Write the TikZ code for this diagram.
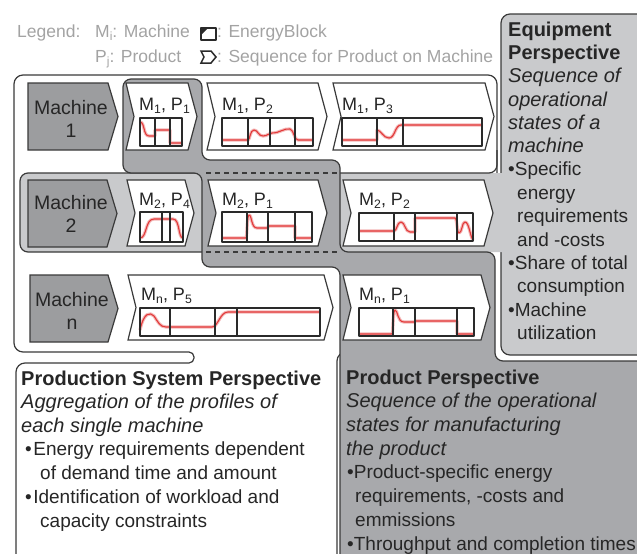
\documentclass[tikz,border=0pt]{standalone}
\usepackage{fontspec}
\setmainfont{Liberation Sans}
\definecolor{edgec}{HTML}{3A3A3A}
\definecolor{blkc}{HTML}{2A2A2A}
\definecolor{bandc}{HTML}{C9CACC}
\definecolor{prodc}{HTML}{A8A9AC}
\definecolor{machc}{HTML}{9C9D9F}
\definecolor{legc}{HTML}{A3A3A3}
\definecolor{txtc}{HTML}{262626}
\definecolor{redc}{HTML}{E23A3A}
\definecolor{glowc}{HTML}{F4B8B8}
\newcommand\hdfnt{\fontsize{20}{20}\selectfont\bfseries}
\newcommand\itfnt{\fontsize{20}{20}\selectfont\itshape}
\newcommand\bufnt{\fontsize{19}{19}\selectfont}
\newcommand\lgfnt{\fontsize{17.5}{17.5}\selectfont}
\newcommand\lbfnt{\fontsize{18}{18}\selectfont}
\newcommand\mcfnt{\fontsize{19.5}{23}\selectfont}
\newcommand\sbx[1]{\raisebox{-0.22em}{\scalebox{0.68}{#1}}}
% sequence (chevron) box: left x, right x, top y, bottom y
\newcommand\chev[4]{\path[chevbox] (#1,#3) -- ({#2-9},#3) -- (#2,{(#3+#4)/2}) -- ({#2-9},#4) -- (#1,#4) -- ({#1+8},{(#3+#4)/2}) -- cycle;}
% energy block frame with its state dividers
\newcommand\eframe[5]{\draw[eblk] (#1,#3) rectangle (#2,#4); \foreach \dv in {#5} {\draw[eblk] (\dv,#3) -- (\dv,#4);}}
\begin{document}
\begin{tikzpicture}[x=1pt,y=-1pt,line join=round,
  outl/.style={draw=edgec, line width=1.2pt},
  eqbox/.style={fill=bandc, outl},
  prodsys/.style={fill=white, outl},
  perpath/.style={fill=prodc, outl},
  chevbox/.style={fill=white, outl, line join=miter},
  machbox/.style={fill=machc, outl, line join=miter},
  eblk/.style={draw=blkc, line width=1.3pt},
  prof/.style={draw=redc, line width=1.1pt, preaction={draw=glowc, line width=3.2pt}},
  dashln/.style={draw=edgec, line width=1.2pt, dash pattern=on 5pt off 4pt},
  txt/.style={inner sep=0pt, anchor=base west, text=txtc},
  legtxt/.style={inner sep=0pt, anchor=base west, text=legc, font=\lgfnt},
  lbl/.style={inner sep=0pt, anchor=base west, text=txtc, font=\lbfnt},
  mlabel/.style={inner sep=0pt, align=center, text=txtc, font=\mcfnt}]
\useasboundingbox (0,0) rectangle (637,554);
\clip (0,0) rectangle (637,554);

% equipment perspective panel
\path[eqbox, rounded corners=9] (501,14) rectangle (700,355);

% production system region (machine rows and its text panel)
\path[prodsys] (14,200) [rounded corners=9] -- (14,75) -- (497,75) -- (497,220) -- (400,220) -- (400,352)
  -- (337,352) -- (337,600) -- (16,600) -- (16,363) -- (100,363) [rounded corners=5] -- (194,363)
  -- (194,352) -- (100,352) [rounded corners=9] -- (14,352) -- cycle;

% machine 2 band joining the equipment panel
\fill[bandc, rounded corners=8] (20,173) rectangle (560,252);
\path[outl, rounded corners=8] (497,150) -- (497,173) -- (20,173) -- (20,252) -- (345,252);

% product perspective path
\path[perpath, rounded corners=8] (160,79) -- (202,79) -- (202,160) -- (340,160) -- (340,252) -- (495,252)
  -- (495,361) -- (700,361) -- (700,600) -- (340,600) -- (340,267) -- (202,267) -- (202,173)
  -- (123,173) -- (123,79) -- cycle;
\draw[dashln] (206,173) -- (337,173);
\draw[dashln] (206,252) -- (337,252);

% machines
\path[machbox] (28,83) -- (108,83) -- (118,116.5) -- (108,150) -- (28,150) -- cycle;
\path[machbox] (28,180) -- (107,180) -- (117,213.5) -- (107,247) -- (28,247) -- cycle;
\path[machbox] (30,275) -- (108,275) -- (118,308.5) -- (108,342) -- (30,342) -- cycle;
\node[mlabel] (mach1) at (71,118.5) {Machine\\1};
\node[mlabel] (mach2) at (71,214) {Machine\\2};
\node[mlabel] (machn) at (72,311) {Machine\\n};

% sequences of products on machines
\chev{126}{197}{83}{150}
\chev{207}{327}{83}{150}
\chev{333}{494}{83}{150}
\chev{127}{194}{180}{246}
\chev{208}{327}{180}{246}
\chev{343}{493}{180}{246}
\chev{128}{333}{275}{340}
\chev{343}{490}{275}{340}

\node[lbl] (s11) at (139,110) {M\sbx{1}, P\sbx{1}};
\node[lbl] (s12) at (222,110) {M\sbx{1}, P\sbx{2}};
\node[lbl] (s13) at (342,110) {M\sbx{1}, P\sbx{3}};
\node[lbl] (s24) at (139,205) {M\sbx{2}, P\sbx{4}};
\node[lbl] (s21) at (222,205) {M\sbx{2}, P\sbx{1}};
\node[lbl] (s22) at (359,205) {M\sbx{2}, P\sbx{2}};
\node[lbl] (sn5) at (141,300) {M\sbx{n}, P\sbx{5}};
\node[lbl] (sn1) at (359,300) {M\sbx{n}, P\sbx{1}};

% load profiles
\draw[prof] (140,122) .. controls (145,122) and (143,136) .. (149,136) -- (155,136) -- (155,130) -- (170,130) -- (170,143) -- (182,143);
\draw[prof] (222,140) -- (248,140) .. controls (250,140) and (250,130) .. (254,130) .. controls (258,130) and (258,136) .. (263,136)
  .. controls (268,136) and (268,133) .. (272,133) .. controls (280,133) and (284,128) .. (290,129)
  .. controls (294,130) and (294,140) .. (298,140) -- (313,140);
\draw[prof] (342,140) -- (377,140) -- (377,130) .. controls (381,130) and (383,138) .. (389,138)
  .. controls (395,138) and (395,125) .. (401,125) -- (482,125);
\draw[prof] (140,238) .. controls (147,238) and (145,219) .. (154,219) -- (173,219) .. controls (180,219) and (178,238) .. (183,238);
\draw[prof] (222,238) -- (246,238) .. controls (247,238) and (247,215) .. (249,215) .. controls (252,215) and (251,228) .. (257,228)
  -- (268,228) -- (268,226) -- (295,226) -- (295,238) -- (312,238);
\draw[prof] (359,231) -- (394,231) .. controls (397,231) and (397,222) .. (401,222) .. controls (405,222) and (405,232) .. (410,232)
  -- (415,232) -- (415,218) -- (455,218) .. controls (457,218) and (457,233) .. (459,233)
  .. controls (462,233) and (462,222) .. (465,222) .. controls (469,222) and (470,236) .. (473,240);
\draw[prof] (140,330) .. controls (144,312) and (150,312) .. (154,316) .. controls (158,322) and (160,327) .. (166,327)
  -- (212,327) .. controls (218,327) and (220,312) .. (228,312) -- (320,312);
\draw[prof] (359,334) -- (392,334) .. controls (393,334) and (393,310) .. (395,310) .. controls (398,310) and (397,322) .. (404,322)
  -- (415,322) -- (415,321) -- (457,321) -- (457,334) -- (474,334);

% energy blocks
\eframe{140}{182}{118}{146}{155,170}
\eframe{222}{313}{118}{146}{248,270,295}
\eframe{342}{482}{118}{146}{377,403}
\eframe{140}{183}{212}{242}{162,170}
\eframe{222}{312}{212}{242}{247,268,295}
\eframe{359}{473}{213}{241}{394,415,457}
\eframe{140}{320}{308}{336}{170,215,237}
\eframe{359}{474}{308}{336}{393,415,457}

% legend
\node[legtxt] (lg0) at (17,37) {Legend:};
\node[legtxt] (lg1) at (95,37) {M\sbx{i}: Machine};
\node[legtxt] (lg2) at (95,62) {P\sbx{j}: Product};
\draw[draw=blkc, line width=1.6pt] (201,28) rectangle (216,40);
\fill[blkc] (201,28) -- (208,28) -- (201,35) -- cycle;
\path[draw=blkc, line width=1.5pt, line join=miter] (201,51) -- (211,51) -- (216,57) -- (211,63) -- (201,63) -- (204,57) -- cycle;
\node[legtxt] (lg3) at (217,37) {: EnergyBlock};
\node[legtxt] (lg4) at (217,62) {: Sequence for Product on Machine};

% equipment perspective text
\node[txt, font=\hdfnt] (e1) at (508,36) {Equipment};
\node[txt, font=\hdfnt] (e2) at (508,59) {Perspective};
\node[txt, font=\itfnt] (e3) at (508,82.5) {Sequence of};
\node[txt, font=\itfnt] (e4) at (508,106) {operational};
\node[txt, font=\itfnt] (e5) at (508,129) {states of a};
\node[txt, font=\itfnt] (e6) at (508,152) {machine};
\node[txt, font=\bufnt] (e7) at (508,175.5) {•Specific};
\node[txt, font=\bufnt] (e8) at (517,199) {energy};
\node[txt, font=\bufnt] (e9) at (517,222) {requirements};
\node[txt, font=\bufnt] (e10) at (517,246) {and -costs};
\node[txt, font=\bufnt] (e11) at (508,269) {•Share of total};
\node[txt, font=\bufnt] (e12) at (517,292.5) {consumption};
\node[txt, font=\bufnt] (e13) at (508,316) {•Machine};
\node[txt, font=\bufnt] (e14) at (517,339) {utilization};

% production system perspective text
\node[txt, font=\hdfnt] (p1) at (21,385) {Production System Perspective};
\node[txt, font=\itfnt] (p2) at (21,408) {Aggregation of the profiles of};
\node[txt, font=\itfnt] (p3) at (21,432) {each single machine};
\node[txt, font=\bufnt] (p4) at (25,455) {•\hspace{1.5pt}Energy requirements dependent};
\node[txt, font=\bufnt] (p5) at (40,479) {of demand time and amount};
\node[txt, font=\bufnt] (p6) at (25,503) {•\hspace{1.5pt}Identification of workload and};
\node[txt, font=\bufnt] (p7) at (40,527) {capacity constraints};

% product perspective text
\node[txt, font=\hdfnt] (q1) at (346,384) {Product Perspective};
\node[txt, font=\itfnt] (q2) at (346,407) {Sequence of the operational};
\node[txt, font=\itfnt] (q3) at (346,431) {states for manufacturing};
\node[txt, font=\itfnt] (q4) at (346,455) {the product};
\node[txt, font=\bufnt] (q5) at (347,478) {•Product-specific energy};
\node[txt, font=\bufnt] (q6) at (355,502) {requirements, -costs and};
\node[txt, font=\bufnt] (q7) at (355,526) {emmissions};
\node[txt, font=\bufnt] (q8) at (347,550) {•Throughput and completion times};
\end{tikzpicture}
\end{document}
